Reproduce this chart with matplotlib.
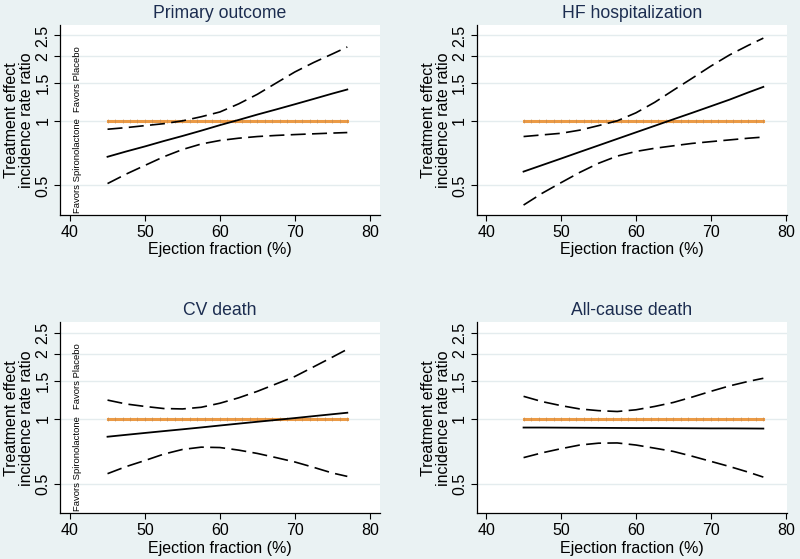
import matplotlib
matplotlib.use('Agg')
import matplotlib.pyplot as plt
from matplotlib.ticker import FixedLocator, NullLocator

plt.rcParams['font.family'] = ['Liberation Sans', 'DejaVu Sans']

# 读取自图片的数据
ef = [45, 47.5, 50, 52.5, 55, 57.5, 60, 62.5, 65, 67.5, 70, 72.5, 75, 77]

titles = ['Primary outcome', 'HF hospitalization', 'CV death', 'All-cause death']

irr_est = [
    [0.68, 0.72, 0.76, 0.805, 0.85, 0.90, 0.955, 1.01, 1.07, 1.13, 1.195, 1.265, 1.34, 1.40],
    [0.58, 0.622, 0.667, 0.716, 0.768, 0.824, 0.884, 0.948, 1.017, 1.09, 1.17, 1.256, 1.357, 1.44],
    [0.825, 0.842, 0.859, 0.876, 0.893, 0.911, 0.930, 0.949, 0.968, 0.987, 1.007, 1.028, 1.049, 1.066],
    [0.91, 0.91, 0.909, 0.908, 0.907, 0.906, 0.905, 0.905, 0.904, 0.903, 0.902, 0.902, 0.901, 0.90],
]
irr_upper = [
    [0.914, 0.93, 0.95, 0.97, 1.0, 1.045, 1.10, 1.20, 1.33, 1.50, 1.69, 1.87, 2.05, 2.21],
    [0.845, 0.86, 0.875, 0.905, 0.95, 1.0, 1.09, 1.22, 1.39, 1.58, 1.80, 2.03, 2.25, 2.43],
    [1.22, 1.17, 1.14, 1.115, 1.11, 1.13, 1.18, 1.25, 1.34, 1.45, 1.57, 1.74, 1.93, 2.10],
    [1.27, 1.20, 1.15, 1.11, 1.09, 1.08, 1.10, 1.14, 1.19, 1.26, 1.34, 1.42, 1.49, 1.54],
]
irr_lower = [
    [0.51, 0.565, 0.62, 0.68, 0.735, 0.78, 0.81, 0.83, 0.845, 0.855, 0.863, 0.87, 0.877, 0.882],
    [0.405, 0.46, 0.515, 0.575, 0.634, 0.685, 0.72, 0.745, 0.765, 0.785, 0.80, 0.815, 0.83, 0.84],
    [0.556, 0.60, 0.64, 0.685, 0.72, 0.738, 0.735, 0.715, 0.69, 0.66, 0.63, 0.595, 0.56, 0.54],
    [0.66, 0.695, 0.726, 0.755, 0.77, 0.772, 0.755, 0.73, 0.705, 0.67, 0.634, 0.60, 0.565, 0.536],
]

ref_x = list(range(45, 78))
yticks = [0.5, 1, 1.5, 2, 2.5]
ytick_labels = ['0.5', '1', '1.5', '2', '2.5']
xticks = [40, 50, 60, 70, 80]

bg = '#eaf2f3'
fig = plt.figure(figsize=(8, 5.59), dpi=100, facecolor=bg)

# 面板位置（像素换算）
positions = [
    [0.0754, 0.6154, 0.399, 0.340],
    [0.596, 0.6154, 0.3875, 0.340],
    [0.0754, 0.0817, 0.399, 0.3417],
    [0.596, 0.0817, 0.3875, 0.3417],
]
xlims = [(38.7, 81.3), (38.76, 80.13), (38.7, 81.3), (38.76, 80.13)]

for i in range(4):
    ax = fig.add_axes(positions[i])
    ax.set_facecolor('white')
    ax.set_yscale('log')
    ax.set_ylim(0.364, 2.8)
    ax.set_xlim(*xlims[i])

    for t in yticks:
        ax.axhline(t, color='#e4ecee', lw=1.0, zorder=0)

    ax.plot(ref_x, [1] * len(ref_x), color='#eb9a45', lw=2.2, zorder=2,
            marker='|', ms=2.5, mec='#c08850', mew=0.4)
    ax.plot(ef, irr_est[i], color='black', lw=1.3, zorder=3)
    ax.plot(ef, irr_upper[i], color='black', lw=1.2, dashes=(9, 3.8), zorder=3)
    ax.plot(ef, irr_lower[i], color='black', lw=1.2, dashes=(9, 3.8), zorder=3)

    ax.yaxis.set_major_locator(FixedLocator(yticks))
    ax.yaxis.set_minor_locator(NullLocator())
    ax.set_yticklabels(ytick_labels, rotation=90, va='center')
    ax.set_xticks(xticks)
    ax.tick_params(axis='both', labelsize=11.5, length=4, width=0.8, color='black', pad=3)

    for s in ['top', 'right']:
        ax.spines[s].set_visible(False)
    for s in ['left', 'bottom']:
        ax.spines[s].set_linewidth(0.9)

    ax.set_title(titles[i], fontsize=12.7, color='#1c2d50', pad=5)
    ax.set_xlabel('Ejection fraction (%)', fontsize=11.5, labelpad=2)
    ax.set_ylabel('Treatment effect\nincidence rate ratio', fontsize=11.5, labelpad=1,
                  linespacing=1.0)

    if i % 2 == 0:
        ax.text(40.95, 1.57, 'Favors Placebo', rotation=90, fontsize=6.8,
                ha='center', va='center')
        ax.text(40.95, 0.62, 'Favors Spironolactone', rotation=90, fontsize=6.8,
                ha='center', va='center')

fig.savefig('out.png', dpi=100, facecolor=bg)
